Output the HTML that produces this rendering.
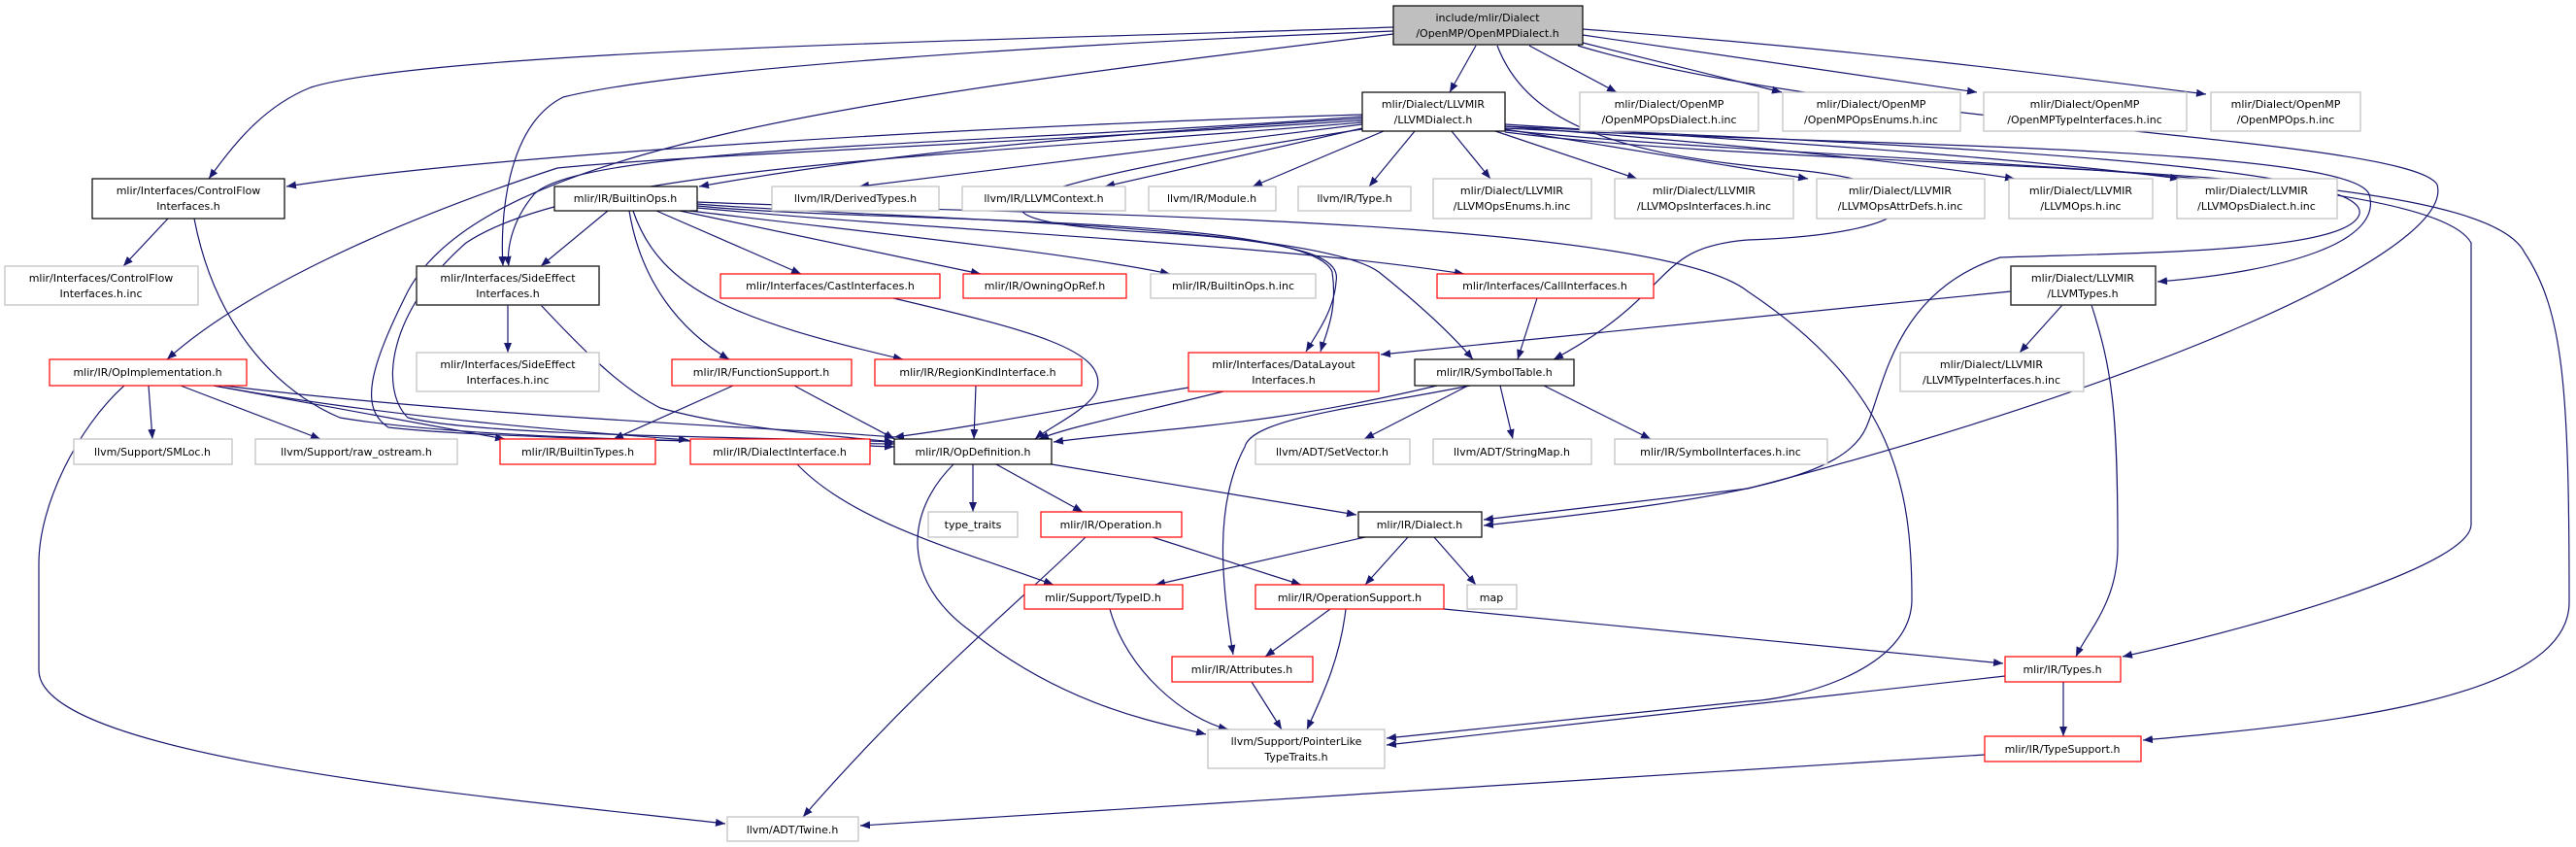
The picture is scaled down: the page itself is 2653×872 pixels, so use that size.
<!DOCTYPE html>
<html><head><meta charset="utf-8"><style>
html,body{margin:0;padding:0;background:#fff;}
svg{display:block;}
text{font-family:"DejaVu Sans","Liberation Sans",sans-serif;font-size:11px;fill:#000;}
.e{fill:none;stroke:#191970;stroke-width:1.2;marker-end:url(#a);}
.k{fill:#fff;stroke:#000;stroke-width:1.2;}
.d{fill:#fff;stroke:#404040;stroke-width:1.6;}
.g{fill:#fff;stroke:#bfbfbf;stroke-width:1.2;}
.r{fill:#fff;stroke:#ff0000;stroke-width:1.2;}
</style></head><body>
<svg width="2653" height="872" viewBox="0 0 2653 872" xmlns="http://www.w3.org/2000/svg">
<defs><marker id="a" markerUnits="userSpaceOnUse" markerWidth="11" markerHeight="8" refX="10" refY="4" orient="auto"><path d="M0,0 L10,4 L0,8 z" fill="#191970"/></marker></defs>
<g>
<path class="e" d="M1520,47 L1493,95"/>
<path class="e" d="M1575,47 L1665,95"/>
<path class="e" d="M1630,44 L1835,95"/>
<path class="e" d="M1630,36 L2036,95"/>
<path class="e" d="M1630,30 C1900,50 2100,75 2272,97"/>
<path class="e" d="M1435,28 C1100,40 450,50 320,90 C270,110 240,150 215,184"/>
<path class="e" d="M1435,32 C1100,45 700,70 580,100 C520,130 515,230 518,274"/>
<path class="e" d="M1435,35 C900,100 500,150 420,300 C380,380 370,420 400,440 C500,452 800,455 921,460"/>
<path class="e" d="M1542,47 C1570,120 1650,160 1850,175 C2000,190 2000,240 1800,247 C1700,255 1730,300 1600,370"/>
<path class="e" d="M1625,47 C1900,130 2480,140 2510,190 C2530,260 2200,400 1800,503 L1528,535"/>
<path class="e" d="M1403,118 C1000,130 500,160 295,192"/>
<path class="e" d="M1403,122 C1100,140 900,160 720,192"/>
<path class="e" d="M1403,120 C1000,150 600,150 550,200 C525,230 522,260 524,274"/>
<path class="e" d="M1403,124 C1000,150 700,160 574,173 C400,230 250,300 172,370"/>
<path class="e" d="M1403,126 C1000,160 600,170 480,250 C400,320 390,400 420,430 C500,450 800,450 921,455"/>
<path class="e" d="M1403,128 L885,192"/>
<path class="e" d="M1403,132 L1138,192"/>
<path class="e" d="M1425,135 L1290,192"/>
<path class="e" d="M1457,135 L1410,192"/>
<path class="e" d="M1495,135 L1535,184"/>
<path class="e" d="M1540,135 L1686,184"/>
<path class="e" d="M1550,133 L1862,184"/>
<path class="e" d="M1550,130 C1800,150 1950,165 2075,184"/>
<path class="e" d="M1550,128 C1900,150 2100,165 2245,184"/>
<path class="e" d="M1550,132 C1900,150 2420,150 2440,200 C2455,250 2350,280 2222,290"/>
<path class="e" d="M1550,134 C1900,170 2500,170 2545,250 L2545,540 C2545,580 2350,640 2186,676"/>
<path class="e" d="M1550,136 C1900,180 2550,160 2600,260 C2640,320 2646,400 2646,620 C2646,720 2400,745 2207,762"/>
<path class="e" d="M1403,133 C1100,180 900,225 1200,240 C1360,250 1380,270 1376,290 C1374,320 1355,345 1345,362"/>
<path class="e" d="M1550,130 C2000,150 2440,170 2430,220 C2420,260 2200,260 2060,265 C1950,300 1940,400 1922,440 C1900,490 1800,512 1528,541"/>
<path class="e" d="M626,217 L557,274"/>
<path class="e" d="M648,217 C660,290 700,340 751,370"/>
<path class="e" d="M676,217 L825,282"/>
<path class="e" d="M652,217 C680,300 760,330 930,370"/>
<path class="e" d="M700,217 L1010,282"/>
<path class="e" d="M710,217 C900,240 1100,260 1205,282"/>
<path class="e" d="M718,214 C1000,240 1300,250 1508,282"/>
<path class="e" d="M718,212 C900,230 1350,220 1372,280 C1378,320 1365,345 1360,362"/>
<path class="e" d="M718,210 C900,225 1350,230 1420,280 C1470,320 1500,350 1517,370"/>
<path class="e" d="M718,208 C1000,220 1700,220 1800,300 C1950,400 1969,500 1969,617 C1969,690 1850,720 1800,722 L1428,760"/>
<path class="e" d="M920,307 C1060,340 1140,360 1130,400 C1125,420 1080,440 1066,452"/>
<path class="e" d="M1583,307 L1563,370"/>
<path class="e" d="M755,397 L632,452"/>
<path class="e" d="M818,397 C860,420 900,440 921,452"/>
<path class="e" d="M1005,397 L1003,452"/>
<path class="e" d="M1260,403 C1150,430 1100,440 1070,452"/>
<path class="e" d="M1224,399 C1100,420 1000,440 921,450"/>
<path class="e" d="M523,314 L523,363"/>
<path class="e" d="M557,314 C600,360 640,400 680,420 C750,440 850,448 921,455"/>
<path class="e" d="M173,225 L127,274"/>
<path class="e" d="M200,225 C220,330 280,400 350,430 C500,455 800,455 921,457"/>
<path class="e" d="M153,397 L157,452"/>
<path class="e" d="M186,397 L330,452"/>
<path class="e" d="M220,397 C350,420 450,440 520,452"/>
<path class="e" d="M220,397 C400,430 600,445 709,453"/>
<path class="e" d="M230,397 C500,430 800,440 921,450"/>
<path class="e" d="M128,397 C80,440 40,520 40,580 L40,690 C40,780 500,820 747,848"/>
<path class="e" d="M1002,478 L1002,527"/>
<path class="e" d="M1026,478 L1115,527"/>
<path class="e" d="M1083,478 L1397,530"/>
<path class="e" d="M982,478 C930,530 930,600 1000,650 C1100,730 1200,745 1242,756"/>
<path class="e" d="M821,478 C880,540 1000,570 1085,602"/>
<path class="e" d="M1187,553 L1340,602"/>
<path class="e" d="M1118,553 C1050,620 950,700 827,841"/>
<path class="e" d="M1406,553 L1190,602"/>
<path class="e" d="M1450,553 L1406,602"/>
<path class="e" d="M1477,553 L1520,602"/>
<path class="e" d="M1143,627 C1160,690 1220,740 1265,751"/>
<path class="e" d="M1370,627 L1303,676"/>
<path class="e" d="M1386,627 C1380,680 1360,720 1346,751"/>
<path class="e" d="M1487,627 L2063,683"/>
<path class="e" d="M1289,702 L1320,751"/>
<path class="e" d="M1480,397 C1300,440 1200,440 1085,455"/>
<path class="e" d="M1512,397 L1405,452"/>
<path class="e" d="M1545,397 L1558,452"/>
<path class="e" d="M1590,397 L1700,452"/>
<path class="e" d="M1514,397 C1400,420 1290,430 1282,460 C1250,520 1258,600 1270,674"/>
<path class="e" d="M2124,314 L2080,363"/>
<path class="e" d="M2071,300 L1422,365"/>
<path class="e" d="M2154,314 C2175,380 2181,420 2181,563 C2181,620 2150,650 2138,676"/>
<path class="e" d="M2125,702 L2125,758"/>
<path class="e" d="M2065,696 L1428,767"/>
<path class="e" d="M2044,777 L886,850"/>
</g>
<g text-anchor="middle">
<rect x="1435" y="6" width="195" height="40" fill="#bfbfbf" stroke="#000" stroke-width="1.2"/><text x="1532" y="22">include/mlir/Dialect</text><text x="1532" y="38">/OpenMP/OpenMPDialect.h</text>
<rect class="k" x="1403" y="95" width="147" height="40"/><text x="1476" y="111">mlir/Dialect/LLVMIR</text><text x="1476" y="127">/LLVMDialect.h</text>
<rect class="g" x="1627" y="95" width="184" height="40"/><text x="1719" y="111">mlir/Dialect/OpenMP</text><text x="1719" y="127">/OpenMPOpsDialect.h.inc</text>
<rect class="g" x="1836" y="95" width="183" height="40"/><text x="1927" y="111">mlir/Dialect/OpenMP</text><text x="1927" y="127">/OpenMPOpsEnums.h.inc</text>
<rect class="g" x="2043" y="95" width="209" height="40"/><text x="2147" y="111">mlir/Dialect/OpenMP</text><text x="2147" y="127">/OpenMPTypeInterfaces.h.inc</text>
<rect class="g" x="2277" y="95" width="154" height="40"/><text x="2354" y="111">mlir/Dialect/OpenMP</text><text x="2354" y="127">/OpenMPOps.h.inc</text>
<rect class="k" x="95" y="184" width="198" height="41"/><text x="194" y="200">mlir/Interfaces/ControlFlow</text><text x="194" y="216">Interfaces.h</text>
<rect class="g" x="5" y="274" width="199" height="40"/><text x="104" y="290">mlir/Interfaces/ControlFlow</text><text x="104" y="306">Interfaces.h.inc</text>
<rect class="k" x="571" y="192" width="147" height="25"/><text x="644" y="208">mlir/IR/BuiltinOps.h</text>
<rect class="g" x="795" y="192" width="172" height="25"/><text x="881" y="208">llvm/IR/DerivedTypes.h</text>
<rect class="g" x="991" y="192" width="168" height="25"/><text x="1075" y="208">llvm/IR/LLVMContext.h</text>
<rect class="g" x="1183" y="192" width="131" height="25"/><text x="1248" y="208">llvm/IR/Module.h</text>
<rect class="g" x="1337" y="192" width="116" height="25"/><text x="1395" y="208">llvm/IR/Type.h</text>
<rect class="g" x="1476" y="184" width="163" height="41"/><text x="1557" y="200">mlir/Dialect/LLVMIR</text><text x="1557" y="216">/LLVMOpsEnums.h.inc</text>
<rect class="g" x="1663" y="184" width="184" height="41"/><text x="1755" y="200">mlir/Dialect/LLVMIR</text><text x="1755" y="216">/LLVMOpsInterfaces.h.inc</text>
<rect class="g" x="1871" y="184" width="173" height="41"/><text x="1957" y="200">mlir/Dialect/LLVMIR</text><text x="1957" y="216">/LLVMOpsAttrDefs.h.inc</text>
<rect class="g" x="2069" y="184" width="148" height="41"/><text x="2143" y="200">mlir/Dialect/LLVMIR</text><text x="2143" y="216">/LLVMOps.h.inc</text>
<rect class="g" x="2242" y="184" width="165" height="41"/><text x="2324" y="200">mlir/Dialect/LLVMIR</text><text x="2324" y="216">/LLVMOpsDialect.h.inc</text>
<rect class="d" x="429" y="274" width="188" height="40"/><text x="523" y="290">mlir/Interfaces/SideEffect</text><text x="523" y="306">Interfaces.h</text>
<rect class="g" x="429" y="363" width="188" height="40"/><text x="523" y="379">mlir/Interfaces/SideEffect</text><text x="523" y="395">Interfaces.h.inc</text>
<rect class="r" x="742" y="282" width="226" height="25"/><text x="855" y="298">mlir/Interfaces/CastInterfaces.h</text>
<rect class="r" x="992" y="282" width="168" height="25"/><text x="1076" y="298">mlir/IR/OwningOpRef.h</text>
<rect class="g" x="1185" y="282" width="170" height="25"/><text x="1270" y="298">mlir/IR/BuiltinOps.h.inc</text>
<rect class="r" x="1480" y="282" width="223" height="25"/><text x="1591" y="298">mlir/Interfaces/CallInterfaces.h</text>
<rect class="d" x="2071" y="274" width="149" height="40"/><text x="2145" y="290">mlir/Dialect/LLVMIR</text><text x="2145" y="306">/LLVMTypes.h</text>
<rect class="r" x="51" y="370" width="203" height="27"/><text x="152" y="387">mlir/IR/OpImplementation.h</text>
<rect class="r" x="692" y="370" width="185" height="27"/><text x="784" y="387">mlir/IR/FunctionSupport.h</text>
<rect class="r" x="901" y="370" width="213" height="27"/><text x="1007" y="387">mlir/IR/RegionKindInterface.h</text>
<rect class="r" x="1224" y="363" width="196" height="40"/><text x="1322" y="379">mlir/Interfaces/DataLayout</text><text x="1322" y="395">Interfaces.h</text>
<rect class="k" x="1457" y="370" width="164" height="27"/><text x="1539" y="387">mlir/IR/SymbolTable.h</text>
<rect class="g" x="1957" y="363" width="189" height="40"/><text x="2051" y="379">mlir/Dialect/LLVMIR</text><text x="2051" y="395">/LLVMTypeInterfaces.h.inc</text>
<rect class="g" x="76" y="452" width="163" height="26"/><text x="157" y="469">llvm/Support/SMLoc.h</text>
<rect class="g" x="263" y="452" width="208" height="26"/><text x="367" y="469">llvm/Support/raw_ostream.h</text>
<rect class="r" x="515" y="452" width="160" height="26"/><text x="595" y="469">mlir/IR/BuiltinTypes.h</text>
<rect class="r" x="711" y="452" width="185" height="26"/><text x="803" y="469">mlir/IR/DialectInterface.h</text>
<rect class="k" x="921" y="452" width="162" height="26"/><text x="1002" y="469">mlir/IR/OpDefinition.h</text>
<rect class="g" x="1293" y="452" width="159" height="26"/><text x="1372" y="469">llvm/ADT/SetVector.h</text>
<rect class="g" x="1476" y="452" width="163" height="26"/><text x="1557" y="469">llvm/ADT/StringMap.h</text>
<rect class="g" x="1663" y="452" width="219" height="26"/><text x="1772" y="469">mlir/IR/SymbolInterfaces.h.inc</text>
<rect class="g" x="956" y="527" width="92" height="26"/><text x="1002" y="544">type_traits</text>
<rect class="r" x="1072" y="527" width="145" height="26"/><text x="1144" y="544">mlir/IR/Operation.h</text>
<rect class="k" x="1399" y="527" width="127" height="26"/><text x="1462" y="544">mlir/IR/Dialect.h</text>
<rect class="r" x="1055" y="602" width="163" height="25"/><text x="1136" y="619">mlir/Support/TypeID.h</text>
<rect class="r" x="1293" y="602" width="194" height="25"/><text x="1390" y="619">mlir/IR/OperationSupport.h</text>
<rect class="g" x="1511" y="602" width="51" height="25"/><text x="1536" y="619">map</text>
<rect class="r" x="1207" y="676" width="145" height="26"/><text x="1279" y="693">mlir/IR/Attributes.h</text>
<rect class="r" x="2065" y="676" width="119" height="26"/><text x="2124" y="693">mlir/IR/Types.h</text>
<rect class="g" x="1244" y="751" width="182" height="40"/><text x="1335" y="767">llvm/Support/PointerLike</text><text x="1335" y="783">TypeTraits.h</text>
<rect class="r" x="2044" y="758" width="161" height="26"/><text x="2124" y="775">mlir/IR/TypeSupport.h</text>
<rect class="g" x="749" y="841" width="135" height="25"/><text x="816" y="858">llvm/ADT/Twine.h</text>
</g>
</svg>
</body></html>
